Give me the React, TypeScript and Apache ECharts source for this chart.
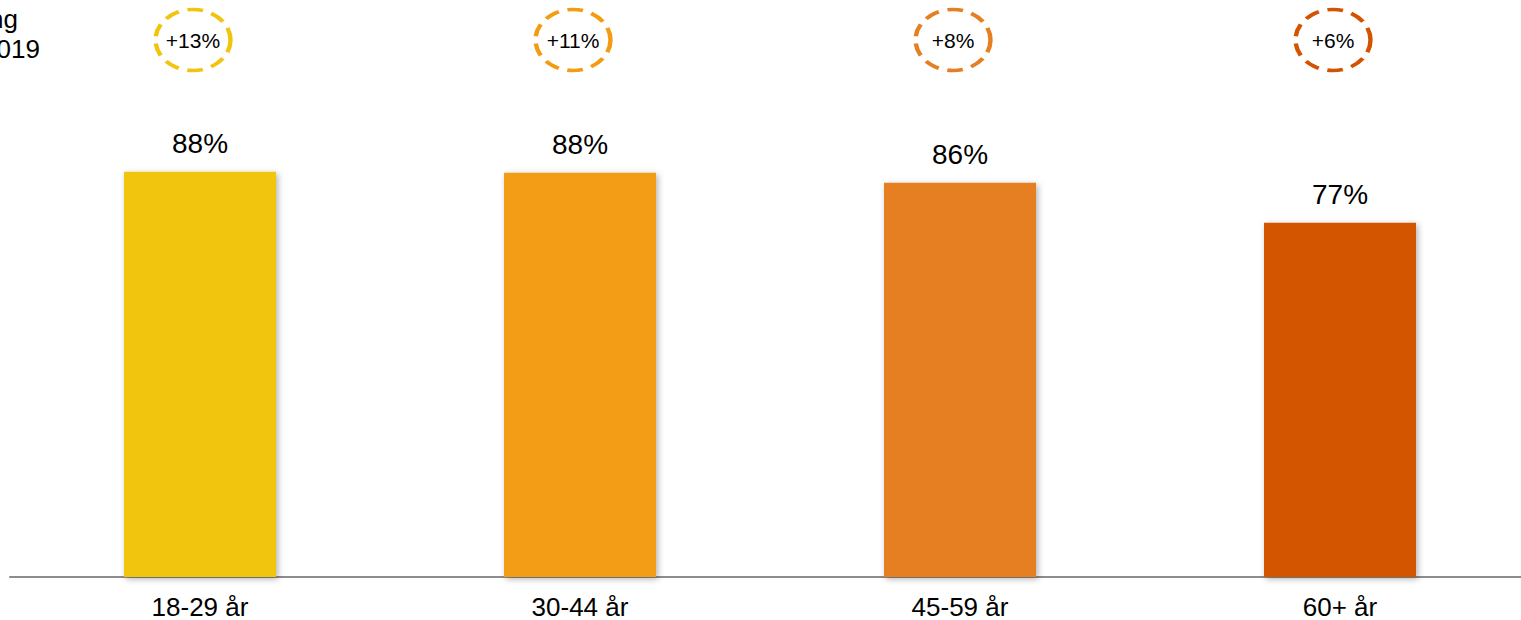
import React, { useEffect, useRef } from "react";
import * as echarts from "echarts";

const categories = ["18-29 år", "30-44 år", "45-59 år", "60+ år"];
const shares = [88.1, 87.9, 85.7, 77.0];
const changes = ["+13%", "+11%", "+8%", "+6%"];
const barColors = ["#F1C40F", "#F39C12", "#E67E22", "#D35400"];
const titleLines = ["Förändring", "jämfört med 2019"];

const FONT = "'Liberation Sans', Arial, sans-serif";

export default function App() {
  const ref = useRef<HTMLDivElement>(null);
  useEffect(() => {
    if (!ref.current) return;
    const chart = echarts.init(ref.current, undefined, { renderer: "svg" });
    chart.setOption({
      animation: false,
      backgroundColor: "#ffffff",
      textStyle: { fontFamily: FONT },
      grid: [
        { left: 10, width: 1520, top: 117, height: 461 },
        { left: 10, width: 1520, top: 10, height: 62 },
      ],
      xAxis: [
        {
          type: "category",
          data: categories,
          gridIndex: 0,
          axisTick: { show: false },
          axisLine: { lineStyle: { color: "#8c8c8c", width: 2 } },
          axisLabel: { color: "#000", fontSize: 26, margin: 17, fontFamily: FONT },
        },
        { type: "category", data: categories, gridIndex: 1, show: false },
      ],
      yAxis: [
        { type: "value", min: 0, max: 100, gridIndex: 0, show: false },
        { type: "value", min: 0, max: 1, gridIndex: 1, show: false },
      ],
      graphic: [
        {
          type: "text",
          x: 18,
          y: 6,
          style: { text: titleLines[0], fontSize: 26, fill: "#000", fontFamily: FONT, align: "right" },
        },
        {
          type: "text",
          x: 40,
          y: 36,
          style: { text: titleLines[1], fontSize: 26, fill: "#000", fontFamily: FONT, align: "right" },
        },
      ],
      series: [
        {
          type: "bar",
          xAxisIndex: 0,
          yAxisIndex: 0,
          barWidth: 152,
          data: shares.map((v, i) => ({
            value: v,
            itemStyle: {
              color: barColors[i],
              shadowColor: "rgba(0,0,0,0.3)",
              shadowBlur: 6,
              shadowOffsetX: 2,
              shadowOffsetY: 2,
            },
          })),
          label: {
            show: true,
            position: "top",
            distance: 14,
            formatter: (p: any) => Math.round(p.value) + "%",
            fontSize: 28,
            color: "#000",
            fontFamily: FONT,
          },
        },
        {
          type: "scatter",
          xAxisIndex: 1,
          yAxisIndex: 1,
          symbol: "circle",
          symbolSize: [75, 61],
          symbolOffset: [-7, -1],
          data: changes.map((c, i) => ({
            value: 0.5,
            name: c,
            itemStyle: {
              opacity: 1,
              color: "rgba(255,255,255,0)",
              borderColor: barColors[i],
              borderWidth: 4,
              borderType: [14, 8],
            },
          })),
          label: {
            show: true,
            position: "inside",
            formatter: (p: any) => changes[p.dataIndex],
            fontSize: 21,
            color: "#000",
            fontFamily: FONT,
          },
        },
      ],
    });
    return () => chart.dispose();
  }, []);
  return (
    <div style={{ position: "absolute", left: 0, top: 0, width: 1521, height: 620, overflow: "hidden" }}>
      <div ref={ref} style={{ width: 1530, height: 620 }} />
    </div>
  );
}
